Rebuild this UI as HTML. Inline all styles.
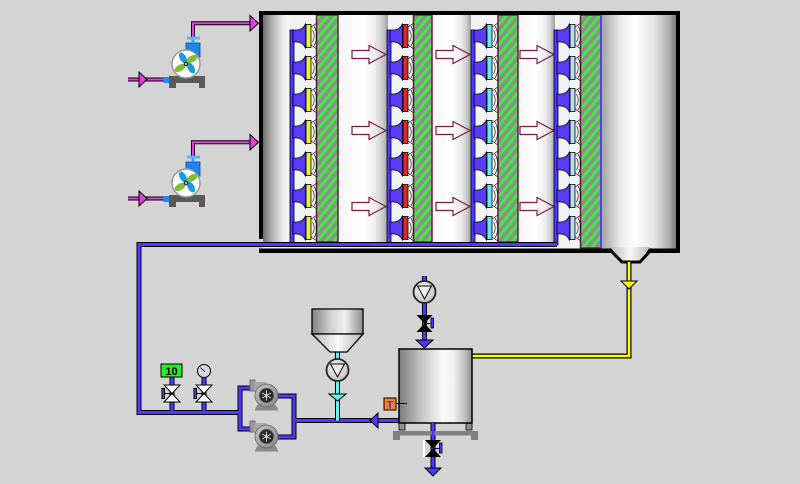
<!DOCTYPE html>
<html><head><meta charset="utf-8">
<style>
html,body{margin:0;padding:0;background:#d4d4d4;}
svg{display:block;}
text{font-family:"Liberation Sans",sans-serif;}
</style></head><body>
<svg width="800" height="484" viewBox="0 0 800 484" xmlns="http://www.w3.org/2000/svg" xmlns:xlink="http://www.w3.org/1999/xlink">
<defs>
 <linearGradient id="gL" x1="0" y1="0" x2="1" y2="0">
  <stop offset="0" stop-color="#6c6c6c"/><stop offset="0.35" stop-color="#b4b4b4"/><stop offset="0.75" stop-color="#ececec"/><stop offset="1" stop-color="#f6f6f6"/>
 </linearGradient>
 <linearGradient id="gC" x1="0" y1="0" x2="1" y2="0">
  <stop offset="0" stop-color="#f6f6f6"/><stop offset="0.5" stop-color="#ffffff"/><stop offset="0.75" stop-color="#ececec"/><stop offset="0.9" stop-color="#c8c8c8"/><stop offset="1" stop-color="#9c9c9c"/>
 </linearGradient>
 <linearGradient id="gR" x1="0" y1="0" x2="1" y2="0">
  <stop offset="0" stop-color="#a0a0a0"/><stop offset="0.25" stop-color="#e8e8e8"/><stop offset="0.45" stop-color="#ffffff"/><stop offset="0.7" stop-color="#e6e6e6"/><stop offset="0.9" stop-color="#b0b0b0"/><stop offset="1" stop-color="#7c7c7c"/>
 </linearGradient>
 <linearGradient id="gT" x1="0" y1="0" x2="1" y2="0">
  <stop offset="0" stop-color="#7c7c7c"/><stop offset="0.3" stop-color="#c4c4c4"/><stop offset="0.6" stop-color="#fafafa"/><stop offset="0.75" stop-color="#f0f0f0"/><stop offset="0.9" stop-color="#c0c0c0"/><stop offset="1" stop-color="#8a8a8a"/>
 </linearGradient>
 <linearGradient id="gS" x1="0" y1="0" x2="1" y2="0">
  <stop offset="0" stop-color="#808080"/><stop offset="0.35" stop-color="#cfcfcf"/><stop offset="0.65" stop-color="#f0f0f0"/><stop offset="1" stop-color="#8c8c8c"/>
 </linearGradient>
 <linearGradient id="gH" x1="0" y1="0" x2="1" y2="0">
  <stop offset="0" stop-color="#b8b8b8"/><stop offset="0.5" stop-color="#f8f8f8"/><stop offset="1" stop-color="#b8b8b8"/>
 </linearGradient>
 <radialGradient id="gP" cx="0.4" cy="0.4" r="0.7">
  <stop offset="0" stop-color="#e0e0e0"/><stop offset="1" stop-color="#7e7e7e"/>
 </radialGradient>
 <radialGradient id="gC2" cx="0.4" cy="0.35" r="0.75">
  <stop offset="0" stop-color="#f4f4f4"/><stop offset="1" stop-color="#bcbcbc"/>
 </radialGradient>
 <pattern id="hatch" width="6.5" height="6.5" patternUnits="userSpaceOnUse" patternTransform="rotate(40)">
  <rect width="6.5" height="6.5" fill="#8e8e8e"/>
  <rect width="2.8" height="6.5" fill="#3cf03c"/>
 </pattern>
 <g id="nz">
  <path d="M0,-6 Q10,-5 12.5,-12.5 L12.5,12.5 Q10,5 0,6 Z" fill="#5a3cf8" stroke="#000" stroke-width="0.8"/>
  <path d="M18,-9 L24,-13 M18,9 L24,13 M19.5,-6 Q23,0 19.5,6 M21,-10 Q26.5,0 21,10" fill="none" stroke="#000" stroke-width="0.6"/>
  <rect x="13" y="-11.5" width="5" height="23" stroke="#000" stroke-width="0.8"/>
 </g>
 <g id="arr">
  <polygon points="0,-4 17,-4 17,-9 34,0 17,9 17,4 0,4" fill="none" stroke="#7a1e42" stroke-width="1.2"/>
 </g>
 <g id="cp">
  <rect x="-16.5" y="-15.5" width="5" height="11" fill="#9a9a9a" stroke="#5a5a5a" stroke-width="0.8"/>
  <rect x="-12" y="-13.5" width="12" height="9" fill="#a8a8a8"/>
  <polygon points="-9,9 9,9 12,15 -12,15" fill="#8a8a8a"/>
  <circle r="11.5" fill="url(#gP)" stroke="#6a6a6a" stroke-width="0.8"/>
  <circle r="7.5" fill="#2a2a2a" stroke="#8a8a8a" stroke-width="0.8"/>
  <path d="M0,0 L0,-5 M0,0 L4.3,-2.5 M0,0 L4.3,2.5 M0,0 L0,5 M0,0 L-4.3,2.5 M0,0 L-4.3,-2.5" stroke="#e8e8e8" stroke-width="0.9"/>
  <circle r="1.3" fill="#ddd"/>
 </g>
 <g id="lp">
  <line x1="128" y1="79.5" x2="164" y2="79.5" stroke="#000" stroke-width="4"/>
  <line x1="128" y1="79.5" x2="164" y2="79.5" stroke="#e63ce6" stroke-width="2"/>
  <polygon points="139,72 147,79.5 139,87" fill="#e63ce6" stroke="#000" stroke-width="1"/>
  <rect x="163.5" y="77" width="6.5" height="6" fill="#1a8cff"/>
  <rect x="169" y="76" width="36" height="7" fill="#595959"/>
  <rect x="169" y="83" width="7" height="5" fill="#595959"/>
  <rect x="199" y="83" width="6" height="5" fill="#595959"/>
  <polyline points="193,37 193,23.3 251,23.3" fill="none" stroke="#000" stroke-width="4"/>
  <polyline points="193,37 193,23.3 251,23.3" fill="none" stroke="#e63ce6" stroke-width="2"/>
  <polygon points="250,15.5 258.5,23.3 250,31" fill="#e63ce6" stroke="#000" stroke-width="1"/>
  <rect x="186" y="43" width="14" height="14" fill="#1c86ee" stroke="#0b4a8a" stroke-width="0.8"/>
  <rect x="191.5" y="38" width="3" height="5" fill="#3aa0ff"/>
  <rect x="187" y="36.5" width="13" height="3" fill="#5ab4ff"/>
  <circle cx="186" cy="64" r="14" fill="#fff" stroke="#999" stroke-width="1.5"/>
  <ellipse cx="183" cy="58" rx="3.2" ry="6" transform="rotate(-30 183 58)" fill="#1a9ae0"/>
  <ellipse cx="191" cy="68" rx="3.2" ry="6" transform="rotate(-30 191 68)" fill="#1a9ae0"/>
  <ellipse cx="192" cy="59" rx="3.2" ry="6" transform="rotate(60 192 59)" fill="#7ac030"/>
  <ellipse cx="180" cy="68" rx="3.2" ry="6" transform="rotate(60 180 68)" fill="#7ac030"/>
  <circle cx="186" cy="64" r="2.3" fill="#333"/>
  <circle cx="186" cy="64" r="1" fill="#ddd"/>
 </g>
</defs>

<!-- MAIN TANK -->
<rect x="263" y="15" width="413" height="234" fill="#f2f2f2"/>
<rect x="263" y="15" width="27" height="227" fill="url(#gL)"/>
<rect x="338" y="15" width="50" height="227" fill="url(#gC)"/>
<rect x="432" y="15" width="39" height="227" fill="url(#gC)"/>
<rect x="518" y="15" width="37" height="227" fill="url(#gC)"/>
<rect x="601" y="15" width="75" height="234" fill="url(#gR)"/>

<rect x="316.5" y="15" width="21.5" height="227" fill="url(#hatch)" stroke="#6a1a40" stroke-width="1.5"/>
<rect x="413.5" y="15" width="18.5" height="227" fill="url(#hatch)" stroke="#6a1a40" stroke-width="1.5"/>
<rect x="498" y="15" width="20" height="227" fill="url(#hatch)" stroke="#6a1a40" stroke-width="1.5"/>
<rect x="580.5" y="15" width="20.5" height="233" fill="url(#hatch)" stroke="#6a1a40" stroke-width="1.5"/>
<line x1="601" y1="15" x2="601" y2="248" stroke="#4b3bff" stroke-width="1.5"/>

<use xlink:href="#arr" x="352" y="54.5"/>
<use xlink:href="#arr" x="352" y="130.5"/>
<use xlink:href="#arr" x="352" y="206.5"/>
<use xlink:href="#arr" x="436" y="54.5"/>
<use xlink:href="#arr" x="436" y="130.5"/>
<use xlink:href="#arr" x="436" y="206.5"/>
<use xlink:href="#arr" x="520" y="54.5"/>
<use xlink:href="#arr" x="520" y="130.5"/>
<use xlink:href="#arr" x="520" y="206.5"/>

<!-- nozzle pipes -->
<rect x="290" y="30" width="4" height="215" fill="#4b3bff" stroke="#000" stroke-width="0.8"/>
<rect x="387" y="30" width="4" height="215" fill="#4b3bff" stroke="#000" stroke-width="0.8"/>
<rect x="471" y="30" width="4" height="215" fill="#4b3bff" stroke="#000" stroke-width="0.8"/>
<rect x="554" y="30" width="4" height="215" fill="#4b3bff" stroke="#000" stroke-width="0.8"/>

<g fill="#e4f03c">
<use xlink:href="#nz" x="293" y="36"/><use xlink:href="#nz" x="293" y="68"/><use xlink:href="#nz" x="293" y="100"/><use xlink:href="#nz" x="293" y="132"/><use xlink:href="#nz" x="293" y="164"/><use xlink:href="#nz" x="293" y="196"/><use xlink:href="#nz" x="293" y="228"/>
</g>
<g fill="#e02828">
<use xlink:href="#nz" x="390" y="36"/><use xlink:href="#nz" x="390" y="68"/><use xlink:href="#nz" x="390" y="100"/><use xlink:href="#nz" x="390" y="132"/><use xlink:href="#nz" x="390" y="164"/><use xlink:href="#nz" x="390" y="196"/><use xlink:href="#nz" x="390" y="228"/>
</g>
<g fill="#6ee6f0">
<use xlink:href="#nz" x="474" y="36"/><use xlink:href="#nz" x="474" y="68"/><use xlink:href="#nz" x="474" y="100"/><use xlink:href="#nz" x="474" y="132"/><use xlink:href="#nz" x="474" y="164"/><use xlink:href="#nz" x="474" y="196"/><use xlink:href="#nz" x="474" y="228"/>
</g>
<g fill="#b4dce8">
<use xlink:href="#nz" x="557" y="36"/><use xlink:href="#nz" x="557" y="68"/><use xlink:href="#nz" x="557" y="100"/><use xlink:href="#nz" x="557" y="132"/><use xlink:href="#nz" x="557" y="164"/><use xlink:href="#nz" x="557" y="196"/><use xlink:href="#nz" x="557" y="228"/>
</g>

<!-- walls -->
<rect x="259" y="11" width="421" height="4" fill="#000"/>
<rect x="259" y="11" width="4" height="228" fill="#000"/>
<rect x="676" y="11" width="4" height="242" fill="#000"/>
<rect x="259" y="248.5" width="421" height="4.5" fill="#000"/>

<!-- hopper -->
<polygon points="610,247 650,247 640,262 622,262" fill="url(#gH)"/>
<polyline points="609,249 622,262 640,262 652,249" fill="none" stroke="#000" stroke-width="3"/>

<!-- yellow pipe -->
<polyline points="629,262 629,356 472,356" fill="none" stroke="#000" stroke-width="5"/>
<polyline points="629,262 629,356 472,356" fill="none" stroke="#ffff00" stroke-width="2.6"/>
<polygon points="621,281 637,281 629,289" fill="#ffff00" stroke="#000" stroke-width="1"/>

<!-- return pipe -->
<g fill="none" stroke="#000" stroke-width="5">
 <polyline points="557,244.5 139,244.5 139,412.5 240,412.5"/>
 <polyline points="252,388 240,388 240,429 252,429"/>
 <polyline points="276,396 294,396 294,437 276,437"/>
 <line x1="294" y1="420.5" x2="399" y2="420.5"/>
 <line x1="172" y1="377" x2="172" y2="412"/>
 <line x1="204" y1="377" x2="204" y2="412"/>
 <line x1="424.5" y1="276" x2="424.5" y2="341"/>
 <line x1="433" y1="423" x2="433" y2="469"/>
</g>
<g fill="none" stroke="#4b3bff" stroke-width="3">
 <polyline points="557,244.5 139,244.5 139,412.5 240,412.5"/>
 <polyline points="252,388 240,388 240,429 252,429"/>
 <polyline points="276,396 294,396 294,437 276,437"/>
 <line x1="294" y1="420.5" x2="399" y2="420.5"/>
 <line x1="172" y1="377" x2="172" y2="412"/>
 <line x1="204" y1="377" x2="204" y2="412"/>
 <line x1="424.5" y1="276" x2="424.5" y2="341"/>
 <line x1="433" y1="423" x2="433" y2="469"/>
</g>
<polygon points="370,420.5 378,413 378,428" fill="#4b3bff" stroke="#000" stroke-width="1"/>

<!-- left pumps -->
<use xlink:href="#lp"/>
<use xlink:href="#lp" y="119"/>

<!-- valves with indicators -->
<rect x="161" y="364" width="21" height="13" fill="#22ee22" stroke="#000" stroke-width="1"/>
<text x="171.5" y="375" font-size="11" font-weight="bold" text-anchor="middle" fill="#000">10</text>
<circle cx="204" cy="371" r="6.5" fill="#d8d8d8" stroke="#000" stroke-width="1"/>
<line x1="200.5" y1="367.5" x2="205" y2="372" stroke="#000" stroke-width="0.8"/>

<g stroke="#000" stroke-width="1">
 <polygon points="164,385 180,385 172,393.5" fill="#fff"/>
 <polygon points="164,402 180,402 172,393.5" fill="#fff"/>
 <line x1="164" y1="393.5" x2="172" y2="393.5"/>
 <rect x="162" y="388.5" width="2.5" height="10" fill="#4b3bff"/>
 <polygon points="196,385 212,385 204,393.5" fill="#fff"/>
 <polygon points="196,402 212,402 204,393.5" fill="#fff"/>
 <line x1="196" y1="393.5" x2="204" y2="393.5"/>
 <rect x="194" y="388.5" width="2.5" height="10" fill="#4b3bff"/>
</g>

<!-- centrifugal pumps -->
<use xlink:href="#cp" x="266.5" y="395.5"/>
<use xlink:href="#cp" x="266.5" y="436.5"/>

<!-- silo -->
<line x1="337.5" y1="352" x2="337.5" y2="420.5" stroke="#000" stroke-width="5"/>
<line x1="337.5" y1="352" x2="337.5" y2="420.5" stroke="#66f0f0" stroke-width="3"/>
<polygon points="329,394 346,394 337.5,401" fill="#66f0f0" stroke="#000" stroke-width="1"/>
<rect x="312" y="309" width="51" height="25" fill="url(#gS)" stroke="#000" stroke-width="1.3"/>
<polygon points="312,334 363,334 347,352 330,352" fill="url(#gH)" stroke="#000" stroke-width="1.3"/>
<circle cx="337.5" cy="370" r="11" fill="url(#gC2)" stroke="#222" stroke-width="1.8"/>
<polygon points="330.5,364 344.5,364 337.5,377" fill="#eee" stroke="#000" stroke-width="1"/>

<!-- top inlet -->
<circle cx="424.5" cy="292" r="11" fill="url(#gC2)" stroke="#222" stroke-width="1.8"/>
<polygon points="417.5,286 431.5,286 424.5,299" fill="#eee" stroke="#000" stroke-width="1"/>
<polygon points="416.5,315 432.5,315 424.5,323.5" fill="#000"/>
<polygon points="416.5,332 432.5,332 424.5,323.5" fill="#000"/>
<line x1="424.5" y1="323.5" x2="432" y2="323.5" stroke="#000" stroke-width="1"/>
<rect x="431" y="318" width="2.5" height="10" fill="#4b3bff" stroke="#000" stroke-width="0.8"/>
<polygon points="416,340 433,340 424.5,348" fill="#4b3bff" stroke="#000" stroke-width="1"/>

<!-- tank -->
<rect x="393" y="431" width="85" height="4.5" fill="#808080"/>
<rect x="393" y="435" width="7" height="5" fill="#808080"/>
<rect x="471" y="435" width="7" height="5" fill="#808080"/>
<rect x="399" y="422" width="6" height="8" fill="#909090" stroke="#000" stroke-width="0.8"/>
<rect x="466" y="422" width="6" height="8" fill="#909090" stroke="#000" stroke-width="0.8"/>
<rect x="399" y="349" width="73" height="74" fill="url(#gT)" stroke="#000" stroke-width="1.5"/>
<line x1="396" y1="403.5" x2="407" y2="403.5" stroke="#000" stroke-width="1"/>
<rect x="384" y="398" width="12" height="12" fill="#ff8020" stroke="#000" stroke-width="1"/>
<text x="390" y="408.5" font-size="11" font-weight="bold" text-anchor="middle" fill="#1a3cff">T</text>

<!-- bottom outlet -->
<line x1="433" y1="423" x2="433" y2="469" stroke="#4b3bff" stroke-width="3"/>
<rect x="423" y="440" width="2" height="17" fill="#fff"/>
<polygon points="425,440 441,440 433,448.5" fill="#000"/>
<polygon points="425,457 441,457 433,448.5" fill="#000"/>
<line x1="433" y1="448.5" x2="440" y2="448.5" stroke="#000" stroke-width="1"/>
<rect x="439.5" y="443" width="2.5" height="10" fill="#4b3bff" stroke="#000" stroke-width="0.8"/>
<polygon points="425,468 441,468 433,476" fill="#4b3bff" stroke="#000" stroke-width="1"/>
</svg>
</body></html>
